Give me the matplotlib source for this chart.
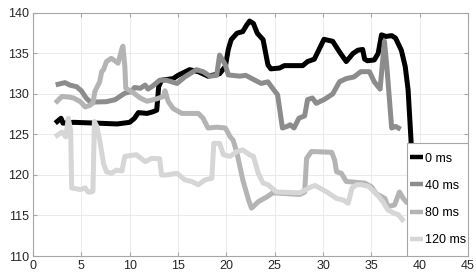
import matplotlib
matplotlib.use('Agg')
import matplotlib.pyplot as plt
from matplotlib.patches import Rectangle

plt.rcParams['font.family'] = ['Liberation Sans', 'DejaVu Sans']

labels = ['0 ms', '40 ms', '80 ms', '120 ms']
colors = ['#000000', '#8c8c8c', '#b4b4b4', '#d6d6d6']

x0 = [2.5, 2.9, 3.1, 4.2, 6.6, 8.7, 10.0, 10.5, 10.9, 11.8, 12.4, 12.8, 13.0, 13.3,
      14.5, 15.0, 16.2, 17.1, 18.1, 19.3, 19.9, 20.2, 20.5, 21.1, 21.7, 22.1, 22.4,
      22.8, 23.2, 23.8, 24.3, 24.6, 25.5, 26.0, 27.9, 28.4, 29.1, 30.1, 31.0, 31.7,
      32.4, 33.1, 33.6, 34.1, 34.3, 34.6, 35.3, 35.7, 36.05, 36.5, 37.1, 37.5, 38.1,
      38.5, 38.8, 39.1, 39.4]
y0 = [126.6, 127.0, 126.4, 126.5, 126.4, 126.3, 126.5, 127.0, 127.7, 127.6, 127.8,
      128.0, 130.9, 131.7, 131.9, 132.3, 133.0, 132.75, 132.2, 132.5, 133.4, 135.5,
      136.7, 137.5, 137.7, 138.5, 139.0, 138.7, 137.5, 136.7, 133.6, 133.1, 133.2,
      133.5, 133.5, 134.0, 134.3, 136.75, 136.5, 135.2, 134.0, 135.0, 135.4, 135.5,
      134.3, 134.1, 134.2, 135.0, 137.3, 137.1, 137.2, 136.9, 135.4, 133.4, 130.5,
      124.3, 116.0]

x40 = [2.6, 3.3, 3.8, 4.5, 5.0, 5.5, 5.9, 6.2, 7.6, 8.5, 9.0, 9.5, 10.2, 10.5, 11.1,
       11.6, 11.9, 12.4, 13.1, 13.8, 14.9, 15.7, 16.9, 17.6, 18.3, 19.0, 19.3, 19.9,
       20.2, 21.4, 22.0, 23.6, 24.3, 24.6, 25.3, 25.8, 26.3, 26.6, 27.0, 27.5, 28.1,
       28.4, 28.9, 29.3, 30.1, 31.0, 31.7, 32.4, 33.2, 33.9, 34.8, 35.3, 35.9, 36.2,
       36.35, 36.6, 37.1, 37.5, 37.8]
y40 = [131.2, 131.4, 131.1, 130.9, 130.4, 129.5, 129.05, 129.0, 129.05, 129.3, 129.7,
       130.1, 130.3, 130.8, 130.7, 131.1, 130.6, 131.0, 131.7, 131.7, 131.3, 132.1,
       133.0, 132.75, 132.2, 132.3, 134.8, 133.6, 132.35, 132.2, 132.3, 131.3, 131.5,
       131.0, 129.9, 125.8, 126.0, 126.2, 125.8, 127.0, 127.3, 129.3, 129.5, 128.85,
       129.3, 130.0, 131.5, 131.9, 132.1, 132.75, 132.75, 131.5, 130.6, 134.5, 136.5,
       133.4, 125.8, 126.0, 125.8]

x80 = [2.5, 3.0, 3.8, 4.2, 4.9, 5.4, 5.9, 6.2, 6.4, 6.9, 7.1, 7.3, 7.6, 8.1, 8.8, 9.2,
       9.3, 9.5, 9.6, 10.2, 11.1, 11.8, 12.8, 13.5, 13.65, 14.0, 14.5, 15.4, 17.1,
       17.6, 18.1, 19.0, 19.9, 20.4, 20.7, 21.1, 21.7, 22.3, 22.6, 23.3, 24.2, 24.8,
       27.6, 28.1, 28.3, 28.8, 30.9, 31.2, 31.4, 31.9, 32.4, 34.3, 35.0, 35.5, 36.4,
       36.7, 37.4, 37.9, 38.3, 38.6]
y80 = [129.1, 129.7, 129.6, 129.5, 129.05, 128.4, 128.6, 128.9, 130.3, 131.5, 132.75,
       133.0, 134.0, 134.4, 133.8, 135.6, 135.9, 133.4, 130.7, 130.3, 129.5, 129.1,
       129.4, 129.7, 130.4, 129.05, 128.2, 127.6, 127.6, 127.0, 125.8, 125.9, 125.8,
       124.7, 124.3, 122.7, 119.4, 116.9, 115.9, 116.7, 117.3, 117.8, 117.6, 117.9,
       122.05, 122.9, 122.8, 121.85, 120.4, 120.2, 119.2, 119.0, 118.55, 117.7, 117.1,
       116.1, 116.3, 117.9, 117.1, 116.7]

x120 = [2.5, 3.0, 3.4, 3.65, 3.9, 4.0, 4.9, 5.4, 5.7, 6.0, 6.2, 6.35, 6.6, 6.9, 7.3,
        7.6, 8.1, 8.65, 9.2, 9.5, 10.7, 11.6, 12.3, 13.1, 13.3, 13.8, 14.9, 15.7, 16.4,
        17.1, 17.8, 18.5, 18.7, 19.3, 19.7, 20.4, 21.1, 21.7, 22.4, 22.8, 23.3, 23.8,
        24.3, 24.7, 25.2, 27.6, 28.8, 29.2, 30.4, 31.4, 32.1, 32.6, 33.0, 33.5, 34.0,
        34.7, 35.5, 36.2, 36.7, 37.3, 37.8, 38.2]
y120 = [124.9, 125.3, 124.7, 127.0, 125.5, 118.4, 118.2, 118.4, 117.9, 117.9, 118.0,
        126.6, 126.0, 124.3, 121.4, 120.4, 120.2, 120.6, 120.5, 122.3, 122.5, 121.65,
        122.05, 122.0, 120.0, 120.0, 120.2, 119.4, 119.2, 118.8, 119.4, 119.6, 123.9,
        123.9, 122.5, 122.3, 122.9, 123.1, 122.5, 122.3, 120.2, 119.0, 118.8, 118.4,
        117.9, 117.8, 118.55, 118.7, 117.9, 117.1, 116.9, 116.5, 118.4, 118.8, 118.8,
        118.6, 117.7, 116.7, 115.7, 115.3, 115.1, 114.5]

xs = [x0, x40, x80, x120]
ys = [y0, y40, y80, y120]

fig = plt.figure(figsize=(4.76, 2.8), dpi=100)
ax = fig.add_axes([0.0693, 0.0857, 0.914, 0.868])

for x, y, c, lab in zip(xs, ys, colors, labels):
    ax.plot(x, y, color=c, lw=3.6, label=lab, solid_joinstyle='round')

ax.set_xlim(0, 45)
ax.set_ylim(110, 140)
ax.set_xticks(range(0, 46, 5))
ax.set_yticks(range(110, 141, 5))
ax.grid(True, color='#e8e8e8', lw=0.6)
ax.set_axisbelow(True)
for s in ax.spines.values():
    s.set_color('#a6a6a6')
    s.set_linewidth(0.8)
ax.tick_params(direction='in', length=3, color='#a6a6a6', labelsize=9,
               labelcolor='#262626', top=True, right=True, pad=3)

# legend box (matlab style, sits in the lower right corner)
box = (0.86, 0.0, 0.14, 0.465)
ax.add_patch(Rectangle(box[:2], box[2], box[3], transform=ax.transAxes,
                       facecolor='white', edgecolor='#a6a6a6', lw=0.8, zorder=4.9))
leg = ax.legend(loc='center', bbox_to_anchor=box, borderaxespad=0, borderpad=0,
                fontsize=9, handlelength=1.05, handletextpad=0.15, labelspacing=1.22,
                frameon=False)
leg.set_zorder(5)
for line in leg.get_lines():
    line.set_solid_capstyle('butt')
    line.set_linewidth(3.2)

fig.savefig('out.png', dpi=100)
